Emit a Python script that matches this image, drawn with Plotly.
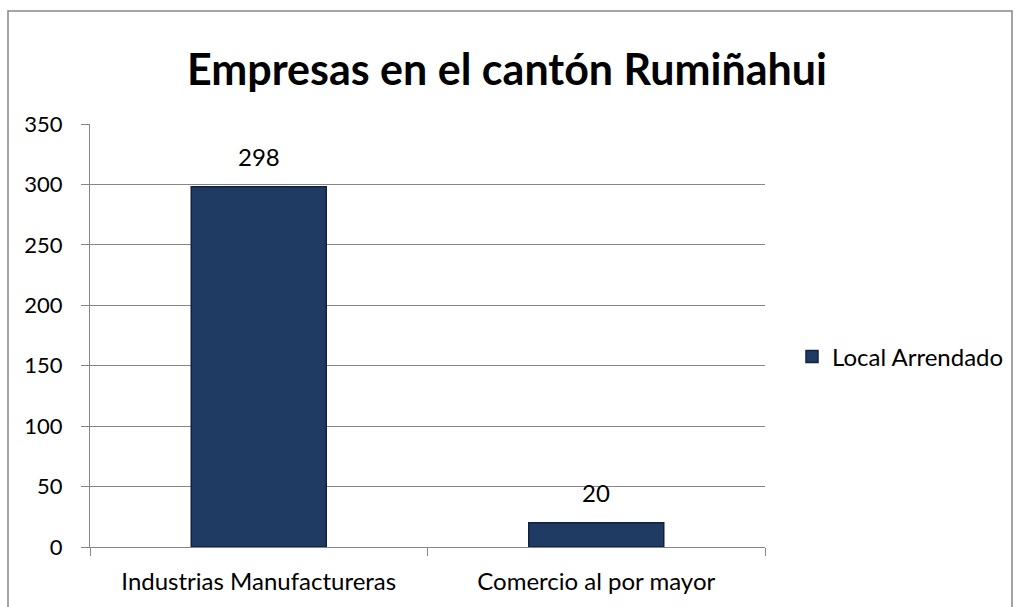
import plotly.graph_objects as go

categories = ["Industrias Manufactureras", "Comercio al por mayor"]
values = [298, 20]
series_name = "Local Arrendado"
title_text = "Empresas en el cantón Rumiñahui"
y_ticks = [0, 50, 100, 150, 200, 250, 300, 350]

FONT = "Lato"

fig = go.Figure()
fig.add_trace(go.Bar(
    x=categories, y=values, name=series_name,
    marker=dict(color="#1F3B63", line=dict(color="#0F2340", width=1.5)),
    width=0.4,
))

for c, v in zip(categories, values):
    fig.add_annotation(x=c, y=v, text=str(v), showarrow=False, yanchor="bottom",
                       yshift=14, font=dict(size=24, color="#000000", family=FONT))

W, H = 1019, 607
l, r, t, b = 90, 254, 124, 60
pw, ph = W - l - r, H - t - b

def px(x):
    return (x - l) / pw

def py(y):
    return (H - b - y) / ph

fig.update_layout(
    width=W, height=H,
    margin=dict(l=l, r=r, t=t, b=b, autoexpand=False),
    paper_bgcolor="white", plot_bgcolor="white",
    title=dict(text="<b>" + title_text + "</b>", x=px(507), xref="paper", xanchor="center",
               y=1 - 70 / H, yanchor="middle",
               font=dict(size=43, color="#000000", family=FONT)),
    font=dict(family=FONT, size=24, color="#000000"),
    showlegend=True,
    legend=dict(x=px(792), y=py(357), xanchor="left", yanchor="middle",
                font=dict(size=24, family=FONT, color="#000000"),
                bgcolor="rgba(0,0,0,0)", itemwidth=30),
    bargap=0.6,
    xaxis=dict(showline=True, linecolor="#868686", linewidth=1,
               ticks="outside", tickson="boundaries", ticklen=8, tickcolor="#868686",
               tickfont=dict(size=24, family=FONT), showgrid=False,
               ticklabelstandoff=13, automargin=False),
    yaxis=dict(range=[0, 350], tickvals=y_ticks, showline=True, linecolor="#868686",
               linewidth=1, ticks="outside", ticklen=8, tickcolor="#868686",
               gridcolor="#868686", gridwidth=1, tickfont=dict(size=22, family=FONT),
               zeroline=False, ticklabelstandoff=14, automargin=False),
    shapes=[dict(type="rect", xref="paper", yref="paper",
                 x0=px(8), x1=px(1012), y0=py(640), y1=py(11),
                 line=dict(color="#868686", width=1.5), fillcolor="rgba(0,0,0,0)",
                 layer="below")],
)

fig.write_html("out.html")
